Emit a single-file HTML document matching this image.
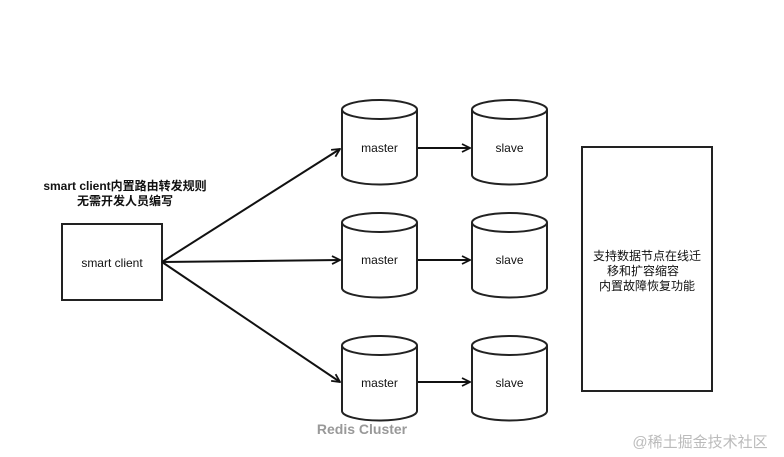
<!DOCTYPE html>
<html><head><meta charset="utf-8"><style>
body{margin:0;background:#fff;}
svg{display:block;font-family:"Liberation Sans","Noto Sans CJK SC",sans-serif;}
</style></head><body>
<svg width="784" height="457" viewBox="0 0 784 457" xmlns="http://www.w3.org/2000/svg">
<defs>
<marker id="a" markerWidth="10" markerHeight="10" refX="9" refY="5" orient="auto" markerUnits="userSpaceOnUse">
<path d="M1,1 L9,5 L1,9" fill="none" stroke="#111" stroke-width="1.8"/>
</marker>
<g id="cyl">
<path d="M0,9.5 L0,75 A37.5,9.5 0 0 0 75,75 L75,9.5" fill="#fff" stroke="#222" stroke-width="2"/>
<ellipse cx="37.5" cy="9.5" rx="37.5" ry="9.5" fill="#fff" stroke="#222" stroke-width="2"/>
</g>
</defs>
<rect x="62" y="224" width="100" height="76" fill="#fff" stroke="#222" stroke-width="2"/>
<text x="112" y="267" font-size="12" text-anchor="middle" fill="#111">smart client</text>
<text x="125" y="190" font-size="12" font-weight="bold" text-anchor="middle" fill="#111">smart client内置路由转发规则</text>
<text x="125" y="205" font-size="12" font-weight="bold" text-anchor="middle" fill="#111">无需开发人员编写</text>

<g stroke="#111" stroke-width="2" fill="none">
<line x1="162" y1="262" x2="340" y2="149" marker-end="url(#a)"/>
<line x1="162" y1="262" x2="340" y2="260" marker-end="url(#a)"/>
<line x1="162" y1="262" x2="340" y2="382" marker-end="url(#a)"/>
<line x1="418" y1="148" x2="470" y2="148" marker-end="url(#a)"/>
<line x1="418" y1="260" x2="470" y2="260" marker-end="url(#a)"/>
<line x1="418" y1="382" x2="470" y2="382" marker-end="url(#a)"/>
</g>

<use href="#cyl" x="342" y="100"/>
<use href="#cyl" x="472" y="100"/>
<use href="#cyl" x="342" y="213"/>
<use href="#cyl" x="472" y="213"/>
<use href="#cyl" x="342" y="336"/>
<use href="#cyl" x="472" y="336"/>
<g font-size="12" text-anchor="middle" fill="#111">
<text x="379.5" y="152">master</text>
<text x="509.5" y="152">slave</text>
<text x="379.5" y="264">master</text>
<text x="509.5" y="264">slave</text>
<text x="379.5" y="387">master</text>
<text x="509.5" y="387">slave</text>
</g>
<text x="362" y="434" font-size="14" font-weight="bold" text-anchor="middle" fill="#999">Redis Cluster</text>

<rect x="582" y="147" width="130" height="244" fill="#fff" stroke="#222" stroke-width="2"/>
<g font-size="12" text-anchor="middle" fill="#111">
<text x="647" y="260">支持数据节点在线迁</text>
<text x="643" y="275">移和扩容缩容</text>
<text x="647" y="290">内置故障恢复功能</text>
</g>
<text x="700" y="447" font-size="15" text-anchor="middle" fill="#bbb">@稀土掘金技术社区</text>
</svg>
</body></html>
